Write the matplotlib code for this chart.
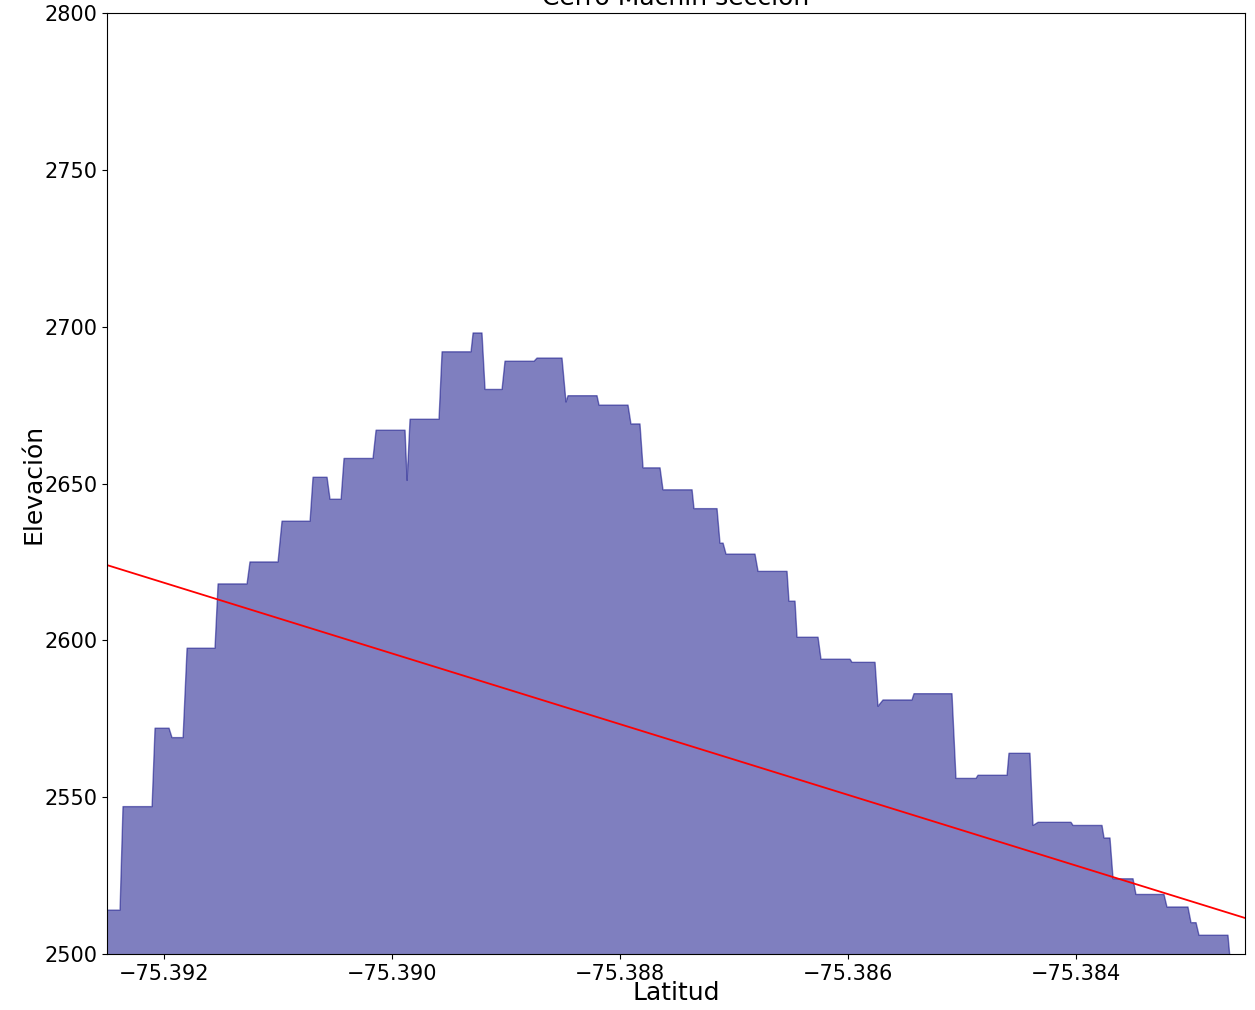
import matplotlib
matplotlib.use("Agg")
import matplotlib.pyplot as plt
import numpy as np

# perfil de elevacion (longitud, elevacion)
lon = [-75.392500, -75.392386, -75.392360, -75.392105, -75.392079, -75.391956,
       -75.391930, -75.391833, -75.391798, -75.391553, -75.391526, -75.391272,
       -75.391246, -75.391000, -75.390965, -75.390719, -75.390693, -75.390570,
       -75.390544, -75.390447, -75.390421, -75.390167, -75.390140, -75.389886,
       -75.389868, -75.389842, -75.389588, -75.389561, -75.389307, -75.389289,
       -75.389211, -75.389184, -75.389035, -75.389009, -75.388754, -75.388728,
       -75.388509, -75.388474, -75.388456, -75.388202, -75.388184, -75.387930,
       -75.387904, -75.387825, -75.387798, -75.387649, -75.387623, -75.387368,
       -75.387351, -75.387149, -75.387123, -75.387096, -75.387070, -75.386816,
       -75.386789, -75.386535, -75.386518, -75.386465, -75.386447, -75.386263,
       -75.386237, -75.385982, -75.385965, -75.385763, -75.385737, -75.385693,
       -75.385439, -75.385421, -75.385088, -75.385053, -75.384877, -75.384860,
       -75.384605, -75.384588, -75.384404, -75.384377, -75.384333, -75.384044,
       -75.384026, -75.383772, -75.383754, -75.383702, -75.383675, -75.383500,
       -75.383474, -75.383228, -75.383202, -75.383018, -75.382991, -75.382947,
       -75.382921, -75.382667, -75.382640]
elev = [2514, 2514, 2547, 2547, 2572, 2572,
        2569, 2569, 2597.5, 2597.5, 2618, 2618,
        2625, 2625, 2638, 2638, 2652, 2652,
        2645, 2645, 2658, 2658, 2667, 2667,
        2651, 2670.5, 2670.5, 2692, 2692, 2698,
        2698, 2680, 2680, 2689, 2689, 2690,
        2690, 2676, 2678, 2678, 2675, 2675,
        2669, 2669, 2655, 2655, 2648, 2648,
        2642, 2642, 2631, 2631, 2627.5, 2627.5,
        2622, 2622, 2612.5, 2612.5, 2601, 2601,
        2594, 2594, 2593, 2593, 2579, 2581,
        2581, 2583, 2583, 2556, 2556, 2557,
        2557, 2564, 2564, 2541, 2542, 2542,
        2541, 2541, 2537, 2537, 2524, 2524,
        2519, 2519, 2515, 2515, 2510, 2510,
        2506, 2506, 2495]

# recta de tendencia
tend_lon = [-75.3925, -75.382518]
tend_elev = [2624, 2511.5]

fig = plt.figure(figsize=(12.55, 10.10), dpi=100)
ax = fig.add_axes([0.0853, 0.0554, 0.9067, 0.9317])

ax.fill_between(lon, elev, color="navy", alpha=0.5)
ax.plot(tend_lon, tend_elev, color="red", linewidth=1.3)

ax.set_xlim(-75.3925, -75.382518)
ax.set_ylim(2500, 2800)
ax.set_xticks([-75.392, -75.390, -75.388, -75.386, -75.384])
ax.set_yticks([2500, 2550, 2600, 2650, 2700, 2750, 2800])
ax.tick_params(labelsize=15)
ax.ticklabel_format(useOffset=False, axis="x")

ax.set_title("Cerro Machín sección", fontsize=18)
ax.set_xlabel("Latitud", fontsize=18, labelpad=-2)
ax.set_ylabel("Elevación", fontsize=18, labelpad=-1)

fig.savefig("out.png", dpi=100)
